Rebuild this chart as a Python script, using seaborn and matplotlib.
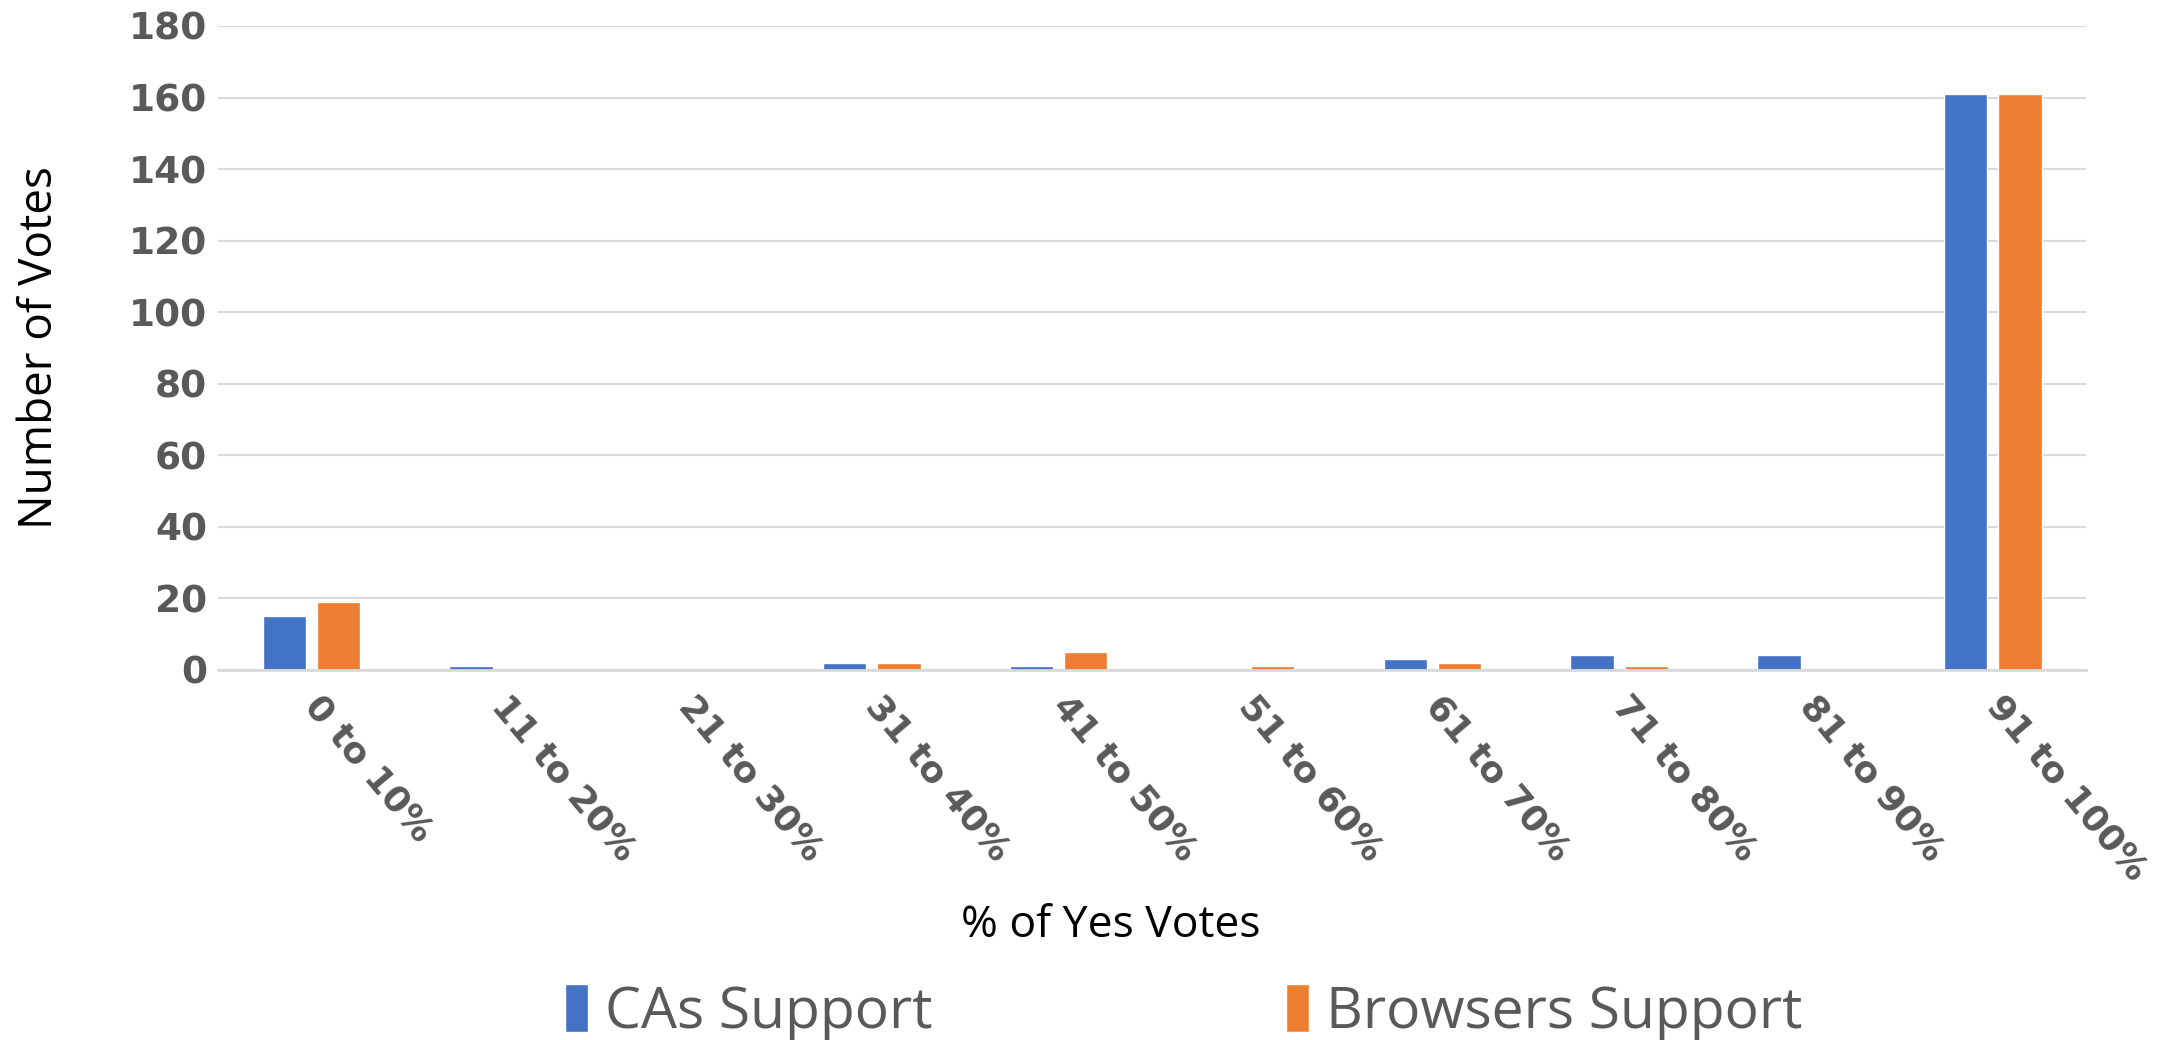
import matplotlib
matplotlib.use("Agg")
import matplotlib.pyplot as plt
import seaborn as sns
import pandas as pd

categories = ["0 to 10%", "11 to 20%", "21 to 30%", "31 to 40%", "41 to 50%",
              "51 to 60%", "61 to 70%", "71 to 80%", "81 to 90%", "91 to 100%"]
cas_support = [15, 1, 0, 2, 1, 0, 3, 4, 4, 161]
browsers_support = [19, 0, 0, 2, 5, 1, 2, 1, 0, 161]
series_names = ["CAs Support", "Browsers Support"]
colors = ["#4472C4", "#ED7D31"]

df = pd.DataFrame({
    "range": categories * 2,
    "votes": cas_support + browsers_support,
    "series": [series_names[0]] * len(categories) + [series_names[1]] * len(categories),
})

sns.set_theme(style="white")
plt.rcParams["font.family"] = ["Open Sans", "DejaVu Sans"]

fig = plt.figure(figsize=(21.8, 10.4), dpi=100)
ax = fig.add_axes([0.1, 0.356, 0.857, 0.619])

sns.barplot(data=df, x="range", y="votes", hue="series", order=categories,
            hue_order=series_names, palette=colors, width=0.58, gap=0.2,
            saturation=1, ax=ax, legend=True)

ax.set_ylim(0, 180)
ax.set_yticks(range(0, 181, 20))
ax.set_xlim(-0.5, len(categories) - 0.5)
ax.yaxis.grid(True, color="#D9D9D9", linewidth=1.5)
ax.set_axisbelow(True)
for s in ["top", "right", "left"]:
    ax.spines[s].set_visible(False)
ax.spines["bottom"].set_color("#D9D9D9")
ax.spines["bottom"].set_linewidth(2)
ax.tick_params(axis="both", length=0)
ax.tick_params(axis="y", pad=8)

for lab in ax.get_yticklabels():
    lab.set_fontfamily("DejaVu Sans")
    lab.set_fontweight("bold")
    lab.set_fontsize(27)
    lab.set_color("#595959")

ax.set_xticks(range(len(categories)))
ax.set_xticklabels(categories, rotation=-50, ha="left", va="center",
                   rotation_mode="anchor", fontfamily="DejaVu Sans",
                   fontweight="bold", fontsize=26, color="#595959")
ax.tick_params(axis="x", pad=22)

ax.set_xlabel("% of Yes Votes", fontsize=32, color="black")
ax.set_ylabel("Number of Votes", fontsize=33, color="black")
ax.xaxis.set_label_coords(0.478, -0.363)
ax.yaxis.set_label_coords(-0.083, 0.5)

handles, labels = ax.get_legend_handles_labels()
ax.legend_.remove()
fig.legend(handles, labels, loc="center", bbox_to_anchor=(0.543, 0.026),
           ncol=2, frameon=False, fontsize=41, labelcolor="#595959",
           handlelength=0.4, handleheight=0.9, handletextpad=0.3,
           columnspacing=6.2)

fig.savefig("out.png", dpi=100)
